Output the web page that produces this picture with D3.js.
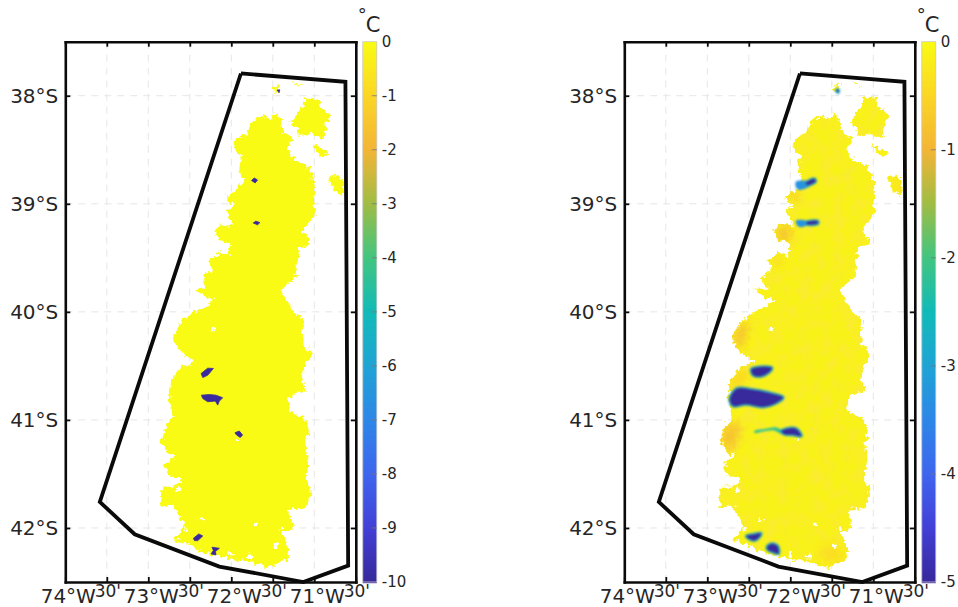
<!DOCTYPE html>
<html>
<head>
<meta charset="utf-8">
<title>Temperature difference maps</title>
<style>
html, body { margin: 0; padding: 0; background: white; }
svg { display: block; }
text { font-family: "DejaVu Sans", sans-serif; fill: #262626; }
</style>
</head>
<body>
<svg width="958" height="607"></svg>
<script src="https://d3js.org/d3.v7.min.js"></script>
<script>
//all outlines are [lon, lat], south is negative
var lonTicks = [-74, -73.5, -73, -72.5, -72, -71.5, -71, -70.5];
var lonLabels = ["74°W", "30'", "73°W", "30'", "72°W", "30'", "71°W", "30'"];
var latTicks = [-38, -39, -40, -41, -42];
var latLabels = ["38°S", "39°S", "40°S", "41°S", "42°S"];

var leftBarTicks = [0, -1, -2, -3, -4, -5, -6, -7, -8, -9, -10];
var rightBarTicks = [0, -1, -2, -3, -4, -5];

//colormap, from coldest to warmest
var colorStops = ["#38299c", "#4340d6", "#3f66ee", "#2e87e8", "#20a4d5", "#12bbb8", "#42c580", "#a0bd45", "#f3b536", "#fbd626", "#f9fb14"];

var boundary = [[-71.884,37.794],[-70.625,37.871],[-70.592,42.348],[-71.132,42.5],[-72.144,42.357],[-73.164,42.058],[-73.584,41.759]];

var landMain = [[-71.644,38.185],[-71.744,38.231],[-71.804,38.339],[-71.944,38.4],[-71.976,38.477],[-71.884,38.554],[-71.904,38.693],[-71.856,38.785],[-71.944,38.878],[-72.052,38.924],[-72.024,38.995],[-71.944,39.016],[-72.044,39.063],[-72.016,39.124],[-71.964,39.201],[-72.124,39.201],[-72.192,39.247],[-72.164,39.324],[-72.004,39.371],[-72.024,39.478],[-72.144,39.448],[-72.264,39.525],[-72.232,39.602],[-72.356,39.694],[-72.284,39.786],[-72.444,39.786],[-72.344,39.848],[-72.204,39.894],[-72.384,39.985],[-72.564,40.062],[-72.684,40.201],[-72.684,40.293],[-72.584,40.386],[-72.424,40.463],[-72.604,40.509],[-72.724,40.632],[-72.752,40.817],[-72.704,40.971],[-72.804,41.079],[-72.844,41.202],[-72.764,41.31],[-72.664,41.325],[-72.804,41.418],[-72.764,41.51],[-72.592,41.556],[-72.704,41.618],[-72.844,41.618],[-72.844,41.803],[-72.684,41.803],[-72.624,41.895],[-72.564,41.987],[-72.624,42.049],[-72.692,42.111],[-72.504,42.157],[-72.304,42.234],[-72.064,42.275],[-71.744,42.321],[-71.544,42.367],[-71.304,42.275],[-71.324,42.172],[-71.384,42.049],[-71.244,41.987],[-71.324,41.833],[-71.104,41.818],[-71.044,41.679],[-71.104,41.525],[-71.072,41.356],[-71.104,41.248],[-71.064,41.094],[-71.144,40.971],[-71.304,40.925],[-71.304,40.786],[-71.104,40.725],[-71.144,40.632],[-71.124,40.509],[-71.024,40.401],[-71.144,40.293],[-71.124,40.078],[-71.264,40.001],[-71.304,39.924],[-71.404,39.802],[-71.224,39.679],[-71.204,39.555],[-71.184,39.401],[-71.024,39.371],[-71.144,39.247],[-70.984,39.093],[-71.004,38.97],[-70.984,38.816],[-71.064,38.662],[-71.264,38.57],[-71.324,38.508],[-71.244,38.4],[-71.384,38.323],[-71.404,38.231],[-71.464,38.154],[-71.524,38.216]];
var landNE = [[-71.104,38.015],[-70.964,38.031],[-70.924,38.108],[-70.804,38.185],[-70.864,38.246],[-70.864,38.339],[-70.904,38.4],[-71.024,38.354],[-71.184,38.37],[-71.204,38.293],[-71.284,38.246],[-71.164,38.123]];
var landSliver = [[-71.016,38.447],[-70.964,38.462],[-70.824,38.539],[-70.904,38.561],[-70.984,38.508]];
var landEast = [[-70.792,38.724],[-70.644,38.77],[-70.656,38.939],[-70.764,38.862],[-70.832,38.785]];
var landSpeck = [[-71.504,37.929],[-71.416,37.898],[-71.416,37.969],[-71.472,37.96]];
var landSpeck2 = [[-71.264,37.871],[-71.124,37.908],[-71.204,37.898]];
var landParts = [landMain, landNE, landSliver, landEast, landSpeck, landSpeck2];

//gaps in the land
var holes = [[-72.224,40.164],[-72.364,41.926],[-72.544,42.012],[-71.404,42.003],[-71.464,42.166],[-71.704,41.966],[-71.924,41.177],[-72.004,42.24],[-71.784,42.265],[-72.644,41.649]];

//left panel cold spots, all at the bottom of the scale
var leftSpots = [
  [[-71.756,38.785],[-71.724,38.761],[-71.684,38.779],[-71.712,38.807]],
  [[-71.736,39.177],[-71.704,39.161],[-71.656,39.174],[-71.684,39.195]],
  [[-71.448,37.948],[-71.416,37.945],[-71.424,37.972]],
  [[-72.364,40.571],[-72.284,40.521],[-72.216,40.524],[-72.284,40.586],[-72.344,40.608]],
  [[-72.36,40.771],[-72.264,40.765],[-72.184,40.771],[-72.104,40.795],[-72.144,40.826],[-72.164,40.863],[-72.192,40.826],[-72.284,40.832],[-72.344,40.802]],
  [[-71.956,41.119],[-71.904,41.103],[-71.864,41.14],[-71.892,41.162],[-71.936,41.14]],
  [[-72.456,42.095],[-72.392,42.055],[-72.344,42.074],[-72.404,42.117],[-72.444,42.117]],
  [[-72.232,42.178],[-72.144,42.188],[-72.192,42.218],[-72.184,42.249],[-72.244,42.24],[-72.216,42.209]]
];
var leftSpotValue = -10;

//right panel
var rightLandValue = -0.12;
var rightCores = [
  [[-71.82,38.812],[-71.712,38.767],[-71.692,38.792],[-71.79,38.83]],
  [[-71.81,39.17],[-71.672,39.158],[-71.664,39.183],[-71.8,39.192]],
  [[-71.448,37.948],[-71.416,37.945],[-71.424,37.972]],
  [[-72.472,40.531],[-72.412,40.512],[-72.22,40.518],[-72.272,40.571],[-72.372,40.601],[-72.452,40.586]],
  [[-72.732,40.808],[-72.644,40.709],[-72.452,40.718],[-72.212,40.755],[-72.084,40.792],[-72.172,40.848],[-72.332,40.882],[-72.532,40.857],[-72.692,40.872]],
  [[-72.112,41.103],[-71.992,41.073],[-71.924,41.082],[-71.864,41.15],[-71.972,41.14],[-72.072,41.134]],
  [[-72.532,42.074],[-72.444,42.058],[-72.352,42.049],[-72.372,42.086],[-72.432,42.117],[-72.512,42.095]],
  [[-72.284,42.178],[-72.232,42.145],[-72.152,42.166],[-72.14,42.24],[-72.212,42.225],[-72.272,42.203]]
];
var rightCoreValue = -5;
var rightTails = [
  [[-71.932,38.795],[-71.792,38.785],[-71.732,38.785],[-71.772,38.841],[-71.892,38.872],[-71.932,38.847]],
  [[-71.932,39.155],[-71.792,39.161],[-71.792,39.192],[-71.88,39.217],[-71.924,39.192]],
  [[-72.432,41.103],[-72.292,41.082],[-72.172,41.07],[-72.092,41.103],[-72.112,41.125],[-72.192,41.097],[-72.292,41.103],[-72.432,41.119]]
];
var rightTailValues = [-3.3, -3.3, -2.2];
var warmPatches = [
  [[-72.672,40.216],[-72.552,40.062],[-72.512,40.155],[-72.572,40.278],[-72.592,40.37],[-72.692,40.293]],
  [[-72.732,40.648],[-72.532,40.494],[-72.492,40.601],[-72.612,40.663],[-72.692,40.771]],
  [[-72.852,41.187],[-72.752,41.017],[-72.592,41.048],[-72.652,41.217],[-72.752,41.31]],
  [[-72.192,39.247],[-72.052,39.201],[-71.972,39.247],[-72.032,39.355],[-72.152,39.324]],
  [[-72.052,38.924],[-71.892,38.878],[-71.932,38.986]],
  [[-71.692,42.234],[-71.492,42.342],[-71.332,42.265],[-71.492,42.141]],
  [[-70.752,38.77],[-70.644,38.77],[-70.652,38.939]],
  [[-72.252,39.555],[-72.092,39.463],[-72.112,39.586]]
];
var warmValues = [-0.85, -0.55, -0.8, -0.85, -0.8, -0.4, -0.55, -0.45];

var svg = d3.select("svg");
var defs = svg.append("defs");

var plotH = [41.7, 582];
var plotW = 290.5;

//jagged coast edge, the source grid is coarse
var rough = defs.append("filter").attr("id", "rough")
    .attr("color-interpolation-filters", "sRGB")
    .attr("x", "-5%").attr("y", "-5%").attr("width", "110%").attr("height", "110%");
rough.append("feTurbulence").attr("type", "fractalNoise").attr("baseFrequency", 0.22)
    .attr("numOctaves", 2).attr("seed", 4);
rough.append("feColorMatrix").attr("type", "matrix")
    .attr("values", "1 0 0 0 0  0 1 0 0 0  0 0 1 0 0  0 0 0 0 1").attr("result", "n");
rough.append("feDisplacementMap").attr("in", "SourceGraphic").attr("in2", "n")
    .attr("scale", 9).attr("xChannelSelector", "R").attr("yChannelSelector", "G");

var soft = defs.append("filter").attr("id", "soft")
    .attr("x", "-10%").attr("y", "-10%").attr("width", "120%").attr("height", "120%");
soft.append("feGaussianBlur").attr("stdDeviation", 0.8);
var crisp = defs.append("filter").attr("id", "crisp")
    .attr("x", "-10%").attr("y", "-10%").attr("width", "120%").attr("height", "120%");
crisp.append("feGaussianBlur").attr("stdDeviation", 0.3);
var softer = defs.append("filter").attr("id", "softer")
    .attr("x", "-40%").attr("y", "-40%").attr("width", "180%").attr("height", "180%");
softer.append("feGaussianBlur").attr("stdDeviation", 5);

//faint orange mottling on the right map
var mottle = defs.append("filter").attr("id", "mottle");
mottle.append("feTurbulence").attr("type", "fractalNoise").attr("baseFrequency", "0.09 0.07")
    .attr("numOctaves", 3).attr("seed", 9);
mottle.append("feColorMatrix").attr("type", "matrix")
    .attr("values", "0 0 0 0 0.98  0 0 0 0 0.72  0 0 0 0 0.16  2.6 0 0 0 -1.05");

function panel(left, barTicks, landValue) {
  var x = d3.scaleLinear().domain([-74, -70.5]).range([left, left + plotW]);
  var y = d3.scaleLinear().domain([37.5, 42.5]).range(plotH);
  var color = d3.scaleLinear()
      .domain(colorStops.map(function(d, i) { return barTicks[barTicks.length - 1] * (1 - i / (colorStops.length - 1)); }))
      .range(colorStops);
  var line = d3.line().x(function(d) { return x(d[0]); }).y(function(d) { return y(d[1]); }).curve(d3.curveLinearClosed);
  var blob = d3.line().x(function(d) { return x(d[0]); }).y(function(d) { return y(d[1]); }).curve(d3.curveCatmullRomClosed);
  var openLine = d3.line().x(function(d) { return x(d[0]); }).y(function(d) { return y(d[1]); });
  var lat = d3.scaleLinear().domain([-37.5, -42.5]).range(plotH);

  //grid
  var g = svg.append("g");
  g.append("g").selectAll("line").data(lonTicks.slice(1, -1)).enter().append("line")
      .attr("x1", x).attr("x2", x).attr("y1", plotH[0]).attr("y2", plotH[1])
      .attr("stroke", "#e6e6e6").attr("stroke-dasharray", "7,6");
  g.append("g").selectAll("line").data(latTicks).enter().append("line")
      .attr("x1", left).attr("x2", left + plotW).attr("y1", lat).attr("y2", lat)
      .attr("stroke", "#e6e6e6").attr("stroke-dasharray", "7,6");

  //land, clipped copy holds the warm patches
  var clipId = "land" + Math.round(left);
  var clip = defs.append("clipPath").attr("id", clipId);
  clip.selectAll("path").data(landParts).enter().append("path").attr("d", line);

  var land = g.append("g").attr("filter", "url(#rough)");
  land.selectAll("path.part").data(landParts).enter().append("path").attr("class", "part")
      .attr("d", line).attr("fill", color(landValue));
  if (landValue < 0) {
    var inner = land.append("g").attr("clip-path", "url(#" + clipId + ")");
    inner.append("rect").attr("x", left).attr("y", plotH[0]).attr("width", plotW).attr("height", plotH[1] - plotH[0])
        .attr("filter", "url(#mottle)").attr("opacity", 0.3);
    inner.selectAll("path.warm").data(warmPatches).enter().append("path").attr("class", "warm")
        .attr("d", line).attr("filter", "url(#softer)")
        .attr("fill", function(d, i) { return color(warmValues[i]); });
  }
  land.selectAll("path.hole").data(holes).enter().append("path").attr("class", "hole")
      .attr("d", function(d) { return "M" + x(d[0]) + "," + y(d[1]) + "h0"; })
      .attr("stroke", "white").attr("stroke-width", 4).attr("stroke-linecap", "round");

  //cold spots
  if (landValue < 0) {
    var cold = g.append("g").attr("filter", "url(#soft)");
    cold.selectAll("path.tail").data(rightTails).enter().append("path").attr("class", "tail")
        .attr("d", blob).attr("fill", function(d, i) { return color(rightTailValues[i]); });
    cold.selectAll("path.halo").data(rightCores).enter().append("path").attr("class", "halo")
        .attr("d", blob).attr("fill", "none").attr("stroke", color(-2.9)).attr("stroke-width", 2.5).attr("stroke-linejoin", "round");
    cold.selectAll("path.core").data(rightCores).enter().append("path").attr("class", "core")
        .attr("d", blob).attr("fill", color(rightCoreValue));
  } else {
    g.append("g").attr("filter", "url(#crisp)").selectAll("path.core").data(leftSpots).enter().append("path").attr("class", "core")
        .attr("d", line).attr("fill", color(leftSpotValue))
        .attr("stroke", color(leftSpotValue)).attr("stroke-width", 0.8).attr("stroke-linejoin", "round");
  }

  //boundary polygon
  g.append("path").attr("d", openLine(boundary.concat([boundary[0]])))
      .attr("fill", "none").attr("stroke", "#0a0a0a").attr("stroke-width", 3.8).attr("stroke-linejoin", "miter");

  //axes box and ticks
  var lonAxis = d3.scaleLinear().domain([-74, -70.5]).range([left, left + plotW]);
  var axB = g.append("g").attr("transform", "translate(0," + plotH[1] + ")")
      .call(d3.axisTop(lonAxis).tickValues(lonTicks).tickSize(5).tickSizeOuter(0).tickFormat(""));
  var axT = g.append("g").attr("transform", "translate(0," + plotH[0] + ")")
      .call(d3.axisBottom(lonAxis).tickValues(lonTicks).tickSize(5).tickSizeOuter(0).tickFormat(""));
  var axL = g.append("g").attr("transform", "translate(" + left + ",0)")
      .call(d3.axisRight(lat).tickValues(latTicks).tickSize(5).tickSizeOuter(0).tickFormat(""));
  var axR = g.append("g").attr("transform", "translate(" + (left + plotW) + ",0)")
      .call(d3.axisLeft(lat).tickValues(latTicks).tickSize(5).tickSizeOuter(0).tickFormat(""));
  [axB, axT, axL, axR].forEach(function(a) {
    a.select(".domain").attr("stroke", "#0a0a0a").attr("stroke-width", 2.6).attr("stroke-linecap", "square");
    a.selectAll(".tick line").attr("stroke", "#0a0a0a").attr("stroke-width", 1.8);
  });

  //tick labels
  g.selectAll("text.lon").data(lonTicks).enter().append("text").attr("class", "lon")
      .attr("x", function(d, i) { return x(d) + (i % 2 ? 1 : 3); })
      .attr("y", function(d, i) { return i % 2 ? 597 : 602.5; })
      .attr("text-anchor", "middle")
      .attr("font-size", function(d, i) { return i % 2 ? 17 : 20; })
      .text(function(d, i) { return lonLabels[i]; });
  g.selectAll("text.lat").data(latTicks).enter().append("text").attr("class", "lat")
      .attr("x", left - 7).attr("y", lat).attr("dy", "0.36em")
      .attr("text-anchor", "end").attr("font-size", 20)
      .text(function(d, i) { return latLabels[i]; });

  //colorbar
  var barX = left + plotW + 7;
  var barW = 14;
  var barScale = d3.scaleLinear().domain([0, barTicks[barTicks.length - 1]]).range(plotH);
  var bar = svg.append("g");
  bar.selectAll("rect").data(d3.range(plotH[0], plotH[1], 1)).enter().append("rect")
      .attr("x", barX).attr("y", function(d) { return d; }).attr("width", barW).attr("height", 1.5)
      .attr("fill", function(d) { return color(barScale.invert(d + 0.5)); });
  bar.append("rect").attr("x", barX).attr("y", plotH[0]).attr("width", barW).attr("height", plotH[1] - plotH[0])
      .attr("fill", "none").attr("stroke", "#c8c8c8").attr("stroke-width", 0.8);
  var axC = bar.append("g").attr("transform", "translate(" + (barX + barW + 2) + ",0)")
      .call(d3.axisRight(barScale).tickValues(barTicks).tickSize(0).tickPadding(3)
        .tickFormat(function(d) { return d == 0 ? "0" : "-" + Math.abs(d); }));
  axC.select(".domain").remove();
  axC.selectAll("text").attr("font-size", 15).attr("font-family", '"DejaVu Sans", sans-serif').attr("fill", "#333");
  bar.selectAll("line.mark").data(barTicks.slice(1, -1)).enter().append("line").attr("class", "mark")
      .attr("x1", barX + barW - 5).attr("x2", barX + barW).attr("y1", barScale).attr("y2", barScale)
      .attr("stroke", "#777").attr("stroke-width", 0.8);

  //unit
  bar.append("text").attr("x", barX - 5).attr("y", 21).attr("font-size", 18).text("°");
  bar.append("text").attr("x", barX + 3).attr("y", 32).attr("font-size", 21).text("C");
}

panel(65.3, leftBarTicks, 0);
panel(624.3, rightBarTicks, rightLandValue);
</script>
</body>
</html>
